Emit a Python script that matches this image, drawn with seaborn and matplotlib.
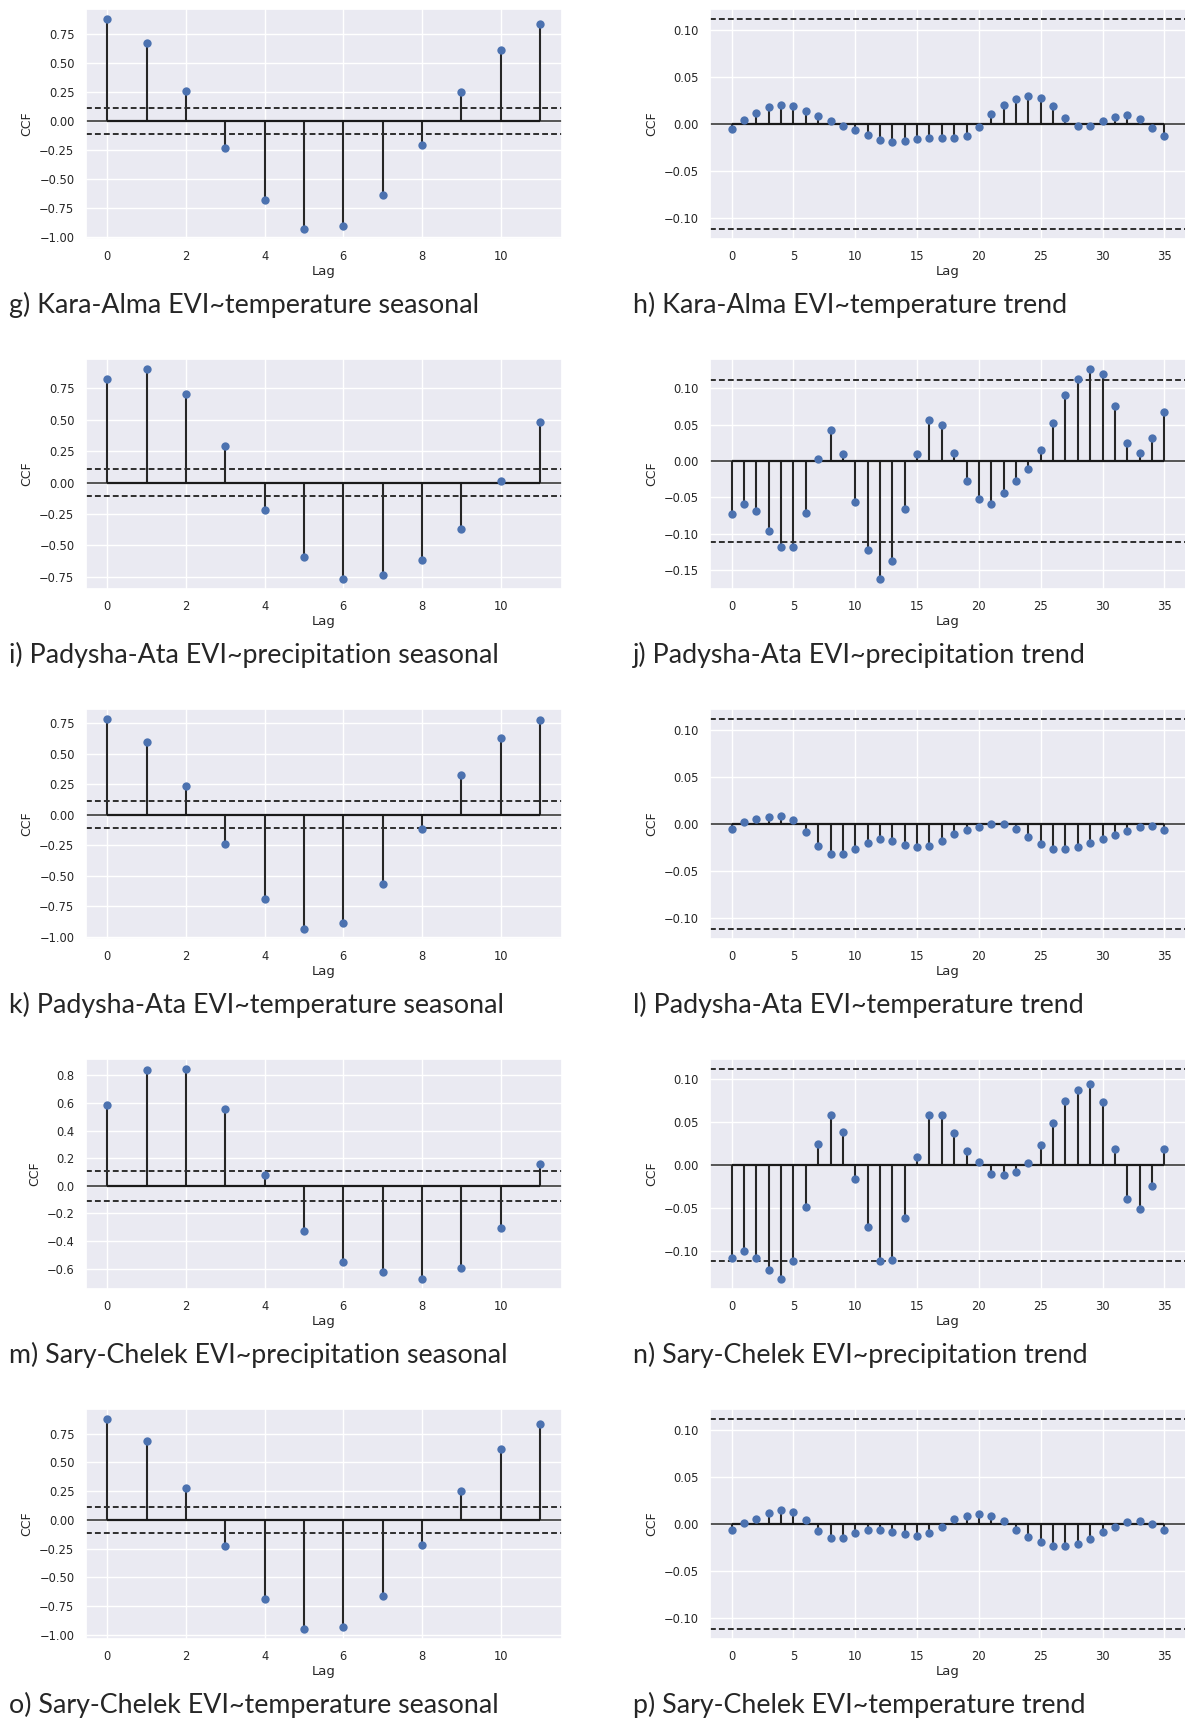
import matplotlib
matplotlib.use('Agg')
import matplotlib.pyplot as plt
import numpy as np
import pandas as pd
import seaborn as sns

# Значения CCF по лагам
kara_temp_seasonal = [0.878, 0.676, 0.256, -0.233, -0.682, -0.929, -0.909, -0.636, -0.207, 0.247, 0.611, 0.838]
kara_temp_trend = [-0.005, 0.004, 0.012, 0.018, 0.020, 0.019, 0.014, 0.009, 0.003, -0.002,
                   -0.006, -0.012, -0.017, -0.019, -0.018, -0.016, -0.015, -0.015, -0.015, -0.013,
                   -0.003, 0.011, 0.020, 0.027, 0.030, 0.028, 0.019, 0.006, -0.002, -0.002,
                   0.003, 0.007, 0.010, 0.005, -0.004, -0.013]
padysha_prec_seasonal = [0.826, 0.902, 0.708, 0.289, -0.218, -0.596, -0.766, -0.740, -0.614, -0.370, 0.010, 0.480]
padysha_prec_trend = [-0.073, -0.059, -0.069, -0.096, -0.119, -0.119, -0.071, 0.002, 0.042, 0.010,
                      -0.057, -0.122, -0.162, -0.137, -0.066, 0.010, 0.056, 0.049, 0.011, -0.028,
                      -0.052, -0.059, -0.044, -0.028, -0.011, 0.015, 0.052, 0.091, 0.113, 0.126,
                      0.119, 0.075, 0.024, 0.011, 0.032, 0.067]
padysha_temp_seasonal = [0.782, 0.599, 0.235, -0.240, -0.690, -0.933, -0.890, -0.569, -0.119, 0.324, 0.626, 0.774]
padysha_temp_trend = [-0.005, 0.002, 0.005, 0.007, 0.008, 0.004, -0.008, -0.023, -0.032, -0.032,
                      -0.027, -0.020, -0.016, -0.018, -0.022, -0.024, -0.023, -0.018, -0.011, -0.006,
                      -0.003, 0.000, 0.000, -0.005, -0.014, -0.021, -0.026, -0.027, -0.024, -0.020,
                      -0.016, -0.012, -0.007, -0.003, -0.002, -0.006]
sary_prec_seasonal = [0.583, 0.838, 0.845, 0.554, 0.079, -0.327, -0.549, -0.626, -0.673, -0.595, -0.303, 0.155]
sary_prec_trend = [-0.108, -0.100, -0.108, -0.122, -0.132, -0.112, -0.049, 0.024, 0.058, 0.038,
                   -0.016, -0.072, -0.112, -0.110, -0.062, 0.009, 0.058, 0.058, 0.037, 0.016,
                   0.003, -0.010, -0.012, -0.008, 0.002, 0.023, 0.049, 0.074, 0.087, 0.094,
                   0.073, 0.018, -0.039, -0.051, -0.025, 0.018]
sary_temp_seasonal = [0.876, 0.685, 0.278, -0.229, -0.690, -0.948, -0.936, -0.661, -0.218, 0.252, 0.619, 0.839]
sary_temp_trend = [-0.006, 0.001, 0.005, 0.012, 0.015, 0.013, 0.004, -0.007, -0.015, -0.015,
                   -0.010, -0.006, -0.006, -0.008, -0.011, -0.013, -0.010, -0.003, 0.005, 0.009,
                   0.011, 0.009, 0.003, -0.006, -0.014, -0.019, -0.023, -0.023, -0.021, -0.016,
                   -0.009, -0.003, 0.002, 0.003, 0.000, -0.006]

captions = [
    'g) Kara-Alma EVI~temperature seasonal', 'h) Kara-Alma EVI~temperature trend',
    'i) Padysha-Ata EVI~precipitation seasonal', 'j) Padysha-Ata EVI~precipitation trend',
    'k) Padysha-Ata EVI~temperature seasonal', 'l) Padysha-Ata EVI~temperature trend',
    'm) Sary-Chelek EVI~precipitation seasonal', 'n) Sary-Chelek EVI~precipitation trend',
    'o) Sary-Chelek EVI~temperature seasonal', 'p) Sary-Chelek EVI~temperature trend',
]
series = [kara_temp_seasonal, kara_temp_trend,
          padysha_prec_seasonal, padysha_prec_trend,
          padysha_temp_seasonal, padysha_temp_trend,
          sary_prec_seasonal, sary_prec_trend,
          sary_temp_seasonal, sary_temp_trend]

# Граница доверительного интервала (1.96/sqrt(n))
conf_level = 0.111

sns.set_theme(style='darkgrid')
plt.rcParams['font.family'] = ['DejaVu Sans']

W, H = 1185, 1721
fig = plt.figure(figsize=(W / 100, H / 100), dpi=100)

ax_w = 476
ax_h = 230.4
col_left = [85.6, 710]
row_top = 8.8
row_step = 350
caption_dx = -77
caption_base = 313


def draw_ccf(ax, values):
    df = pd.DataFrame({'Lag': np.arange(len(values)), 'CCF': values})
    ax.axhline(0, color='#555555', lw=1.4, zorder=1)
    ax.vlines(df['Lag'], 0, df['CCF'], color='#262626', lw=1.5, zorder=2)
    ax.hlines(0, df['Lag'].min(), df['Lag'].max(), color='#1a1a1a', lw=1.6, zorder=2)
    sns.scatterplot(data=df, x='Lag', y='CCF', ax=ax, s=36, color='#4C72B0',
                    linewidth=0, zorder=3)
    for c in (conf_level, -conf_level):
        ax.axhline(c, color='#2e2e2e', lw=1.4, ls=(0, (3.0, 1.6)), zorder=2)
    ax.set_xlabel('Lag', fontsize=9.5, color='#262626', labelpad=1.5)
    ax.set_ylabel('CCF', fontsize=9, color='#262626')
    ax.tick_params(labelsize=8.3, length=0, pad=8, colors='#262626')


for i, (values, cap) in enumerate(zip(series, captions)):
    row, col = divmod(i, 2)
    top = row_top + row * row_step
    ax = fig.add_axes([col_left[col] / W, 1 - (top + ax_h) / H, ax_w / W, ax_h / H])
    draw_ccf(ax, values)
    fig.text((col_left[col] + caption_dx) / W, 1 - (caption_base + row * row_step) / H, cap,
             fontsize=19.3, family=['Lato', 'DejaVu Sans'], color='#262626', va='baseline')

fig.savefig('out.png', dpi=100)
plt.close(fig)
